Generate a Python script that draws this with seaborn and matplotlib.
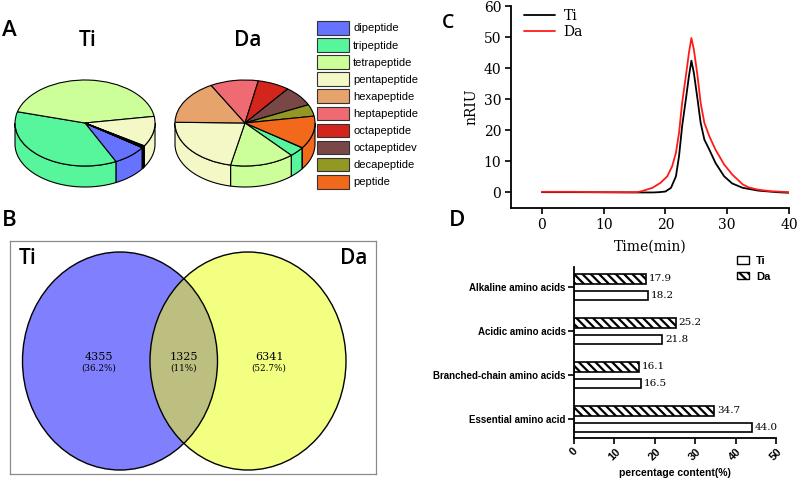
import numpy as np
import pandas as pd
import matplotlib
matplotlib.use("Agg")
import matplotlib.pyplot as plt
from matplotlib.patches import Ellipse, Polygon, Patch
import seaborn as sns

# ---------------------------------------------------------------------------
# Data
# ---------------------------------------------------------------------------

PEPTIDES = ["dipeptide", "tripeptide", "tetrapeptide", "pentapeptide",
            "hexapeptide", "heptapeptide", "octapeptide", "octapeptidev",
            "decapeptide", "peptide"]
PEP_COLORS = ["#6673FF", "#57F59C", "#CCFF99", "#F3F8C6", "#E6A36B",
              "#F06A73", "#D4251C", "#7A4747", "#939824", "#F2691C"]
TI_PEP = [8.0, 36.5, 43.3, 11.4, 0.25, 0.2, 0.15, 0.1, 0.05, 0.05]
DA_PEP = [0.1, 3.7, 14.8, 22.0, 16.7, 11.1, 7.4, 7.6, 4.4, 12.3]
START_ANGLE = -35

VENN_COUNTS = [4355, 1325, 6341]
VENN_PCTS = ["(36.2%)", "(11%)", "(52.7%)"]

TIME_TI = [0, 5, 10, 15, 18, 19, 20, 20.9, 21.7, 22.2, 22.7, 23.3, 23.8,
           24.2, 24.6, 25.2, 25.7, 26.3, 27.1, 28.1, 29.5, 30.8, 32.5, 35,
           38, 40]
NRIU_TI = [0.1, 0.1, 0.05, 0.0, 0.0, 0.1, 0.3, 1.5, 5.2, 11.7, 21.3, 29.9,
           37.4, 42.4, 38.5, 29.9, 22.4, 17.0, 13.8, 9.5, 5.2, 2.9, 1.5, 0.6,
           0.1, -0.1]
TIME_DA = [0, 5, 10, 15, 15.7, 16.3, 17.9, 19.2, 20.3, 21.1, 21.7, 22.2,
           22.7, 23.3, 23.8, 24.2, 24.6, 25.2, 25.7, 26.3, 27.1, 28.1, 29.5,
           30.8, 32.5, 33.5, 35, 37, 40]
NRIU_DA = [0.2, 0.2, 0.1, 0.1, 0.2, 0.5, 1.5, 3.1, 5.2, 8.5, 12.8, 19.2,
           28.8, 37.4, 44.9, 49.7, 46.0, 37.4, 28.8, 22.4, 18.1, 13.8, 9.0,
           5.8, 2.6, 1.6, 0.9, 0.4, 0.1]

AMINO_CATS = ["Alkaline amino acids", "Acidic amino acids",
              "Branched-chain amino acids", "Essential amino acid"]
TI_AA = [18.2, 21.8, 16.5, 44.0]
DA_AA = [17.9, 25.2, 16.1, 34.7]

# ---------------------------------------------------------------------------
# Layout helpers (figure is 800 x 484 px)
# ---------------------------------------------------------------------------
W, H = 800, 484
SERIF = "DejaVu Serif"
SANS = "Liberation Sans"
LETTER = "Open Sans"
HATCH = "\\\\\\\\"


def fx(px):
    return px / W


def fy(py):
    return 1 - py / H


def box(left, top, right, bottom):
    return [fx(left), fy(bottom), (right - left) / W, (bottom - top) / H]


def pie_3d(ax, shares, depth):
    wedges, _ = ax.pie(shares, colors=PEP_COLORS, startangle=START_ANGLE,
                       counterclock=False,
                       wedgeprops=dict(edgecolor="black", linewidth=0.8, zorder=2))
    # side wall of the front half of the disc
    for w in wedges:
        for k in (-2, -1, 0, 1):
            lo = max(w.theta1, 180 + 360 * k)
            hi = min(w.theta2, 360 + 360 * k)
            if hi <= lo:
                continue
            t = np.radians(np.linspace(lo, hi, 60))
            top = np.column_stack([np.cos(t), np.sin(t)])
            bottom = np.column_stack([np.cos(t[::-1]), np.sin(t[::-1]) - depth])
            ax.add_patch(Polygon(np.vstack([top, bottom]), closed=True,
                                 facecolor=w.get_facecolor(), edgecolor="black",
                                 linewidth=0.8, zorder=1))
    return wedges


sns.set_theme(style="white")
plt.rcParams["font.family"] = [SANS, "DejaVu Sans"]
plt.rcParams["text.color"] = "black"
plt.rcParams["axes.labelcolor"] = "black"
plt.rcParams["xtick.color"] = "black"
plt.rcParams["ytick.color"] = "black"
plt.rcParams["hatch.linewidth"] = 1.6

fig = plt.figure(figsize=(W / 100, H / 100), dpi=100)
fig.patch.set_facecolor("white")

# ---------------------------------------------------------------------------
# A: 3D pies
# ---------------------------------------------------------------------------
RX, RY, DEPTH_PX = 70, 43, 21
for cx, shares, name in [(85, TI_PEP, "Ti"), (245, DA_PEP, "Da")]:
    ax = fig.add_axes(box(cx - 80, 75, cx + 80, 195))
    wedges = pie_3d(ax, shares, DEPTH_PX / RY)
    ax.set_aspect("auto")
    ax.set_xlim(-80 / RX, 80 / RX)
    ax.set_ylim(-(195 - 123) / RY, (123 - 75) / RY)
    ax.axis("off")
    fig.text(fx(cx + 3), fy(40), name, family=LETTER, fontsize=15,
             fontweight="semibold", ha="center", va="center")
    if name == "Ti":
        legend_handles = wedges

for w in legend_handles:
    w.set_edgecolor("#333333")
fig.legend(legend_handles, PEPTIDES, loc="upper left",
           bbox_to_anchor=(fx(317), fy(21)), frameon=False, fontsize=8,
           handlelength=2.9, handleheight=1.5, handletextpad=0.35,
           labelspacing=0.32, borderpad=0, borderaxespad=0)
for w in legend_handles:
    w.set_edgecolor("black")

# ---------------------------------------------------------------------------
# B: Venn diagram
# ---------------------------------------------------------------------------
axv = fig.add_axes(box(10, 241, 376, 474))
axv.set_xlim(10, 376)
axv.set_ylim(474, 241)
ti_circle = Ellipse((120, 361), 195, 218, facecolor="#8080FF", edgecolor="none")
da_circle = Ellipse((248, 361), 196, 218, facecolor="#F2FF80", edgecolor="none")
axv.add_patch(ti_circle)
axv.add_patch(da_circle)
lens = Ellipse((248, 361), 196, 218, facecolor="#BDBF80", edgecolor="none")
axv.add_patch(lens)
lens.set_clip_path(ti_circle)
for c in [(120, 361, 195), (248, 361, 196)]:
    axv.add_patch(Ellipse((c[0], c[1]), c[2], 218, fill=False,
                          edgecolor="black", linewidth=1.0))
for x, n, p in zip([99, 184, 269], VENN_COUNTS, VENN_PCTS):
    axv.text(x, 357, str(n), family=SERIF, fontsize=8, ha="center", va="center")
    axv.text(x, 368, p, family=SERIF, fontsize=6.3, ha="center", va="center")
axv.text(28, 258, "Ti", family=LETTER, fontsize=15, fontweight="semibold",
         ha="center", va="center")
axv.text(354, 258, "Da", family=LETTER, fontsize=15, fontweight="semibold",
         ha="center", va="center")
axv.set_xticks([])
axv.set_yticks([])
for s in axv.spines.values():
    s.set_visible(True)
    s.set_linestyle((0, (1, 1)))
    s.set_color("#8a8a8a")
    s.set_linewidth(0.9)

# ---------------------------------------------------------------------------
# C: HPLC chromatogram
# ---------------------------------------------------------------------------
axc = fig.add_axes(box(511, 6, 789, 208))
sns.lineplot(x=TIME_TI, y=NRIU_TI, ax=axc, color="black", linewidth=1.3,
             label="Ti")
sns.lineplot(x=TIME_DA, y=NRIU_DA, ax=axc, color="#FF1A1A", linewidth=1.3,
             label="Da")
axc.set_xlim(-5, 40)
axc.set_ylim(-5, 60)
axc.set_xticks([0, 10, 20, 30, 40])
axc.set_yticks([0, 10, 20, 30, 40, 50, 60])
axc.set_xlabel("Time(min)", family=SERIF, fontsize=10, labelpad=6)
axc.set_ylabel("nRIU", family=SERIF, fontsize=10, labelpad=4)
sns.despine(ax=axc)
for s in ["left", "bottom"]:
    axc.spines[s].set_linewidth(1.3)
    axc.spines[s].set_color("black")
axc.tick_params(direction="out", length=4, width=1.2, labelsize=10, pad=3,
                bottom=True, left=True)
for lab in axc.get_xticklabels() + axc.get_yticklabels():
    lab.set_family(SERIF)
axc.legend(loc="upper left", bbox_to_anchor=(0.047, 0.985), frameon=False,
           prop=dict(family=SERIF, size=10), handlelength=2.25,
           handletextpad=0.6, labelspacing=0.15, borderpad=0, borderaxespad=0)

# ---------------------------------------------------------------------------
# D: amino acid composition
# ---------------------------------------------------------------------------
axd = fig.add_axes(box(574, 267, 776, 438))
amino = pd.DataFrame({
    "category": AMINO_CATS * 2,
    "group": ["Ti"] * len(AMINO_CATS) + ["Da"] * len(AMINO_CATS),
    "value": TI_AA + DA_AA,
})
sns.barplot(data=amino, y="category", x="value", hue="group",
            hue_order=["Da", "Ti"], order=AMINO_CATS, orient="h",
            palette={"Da": "white", "Ti": "white"}, edgecolor="black",
            linewidth=1.2, width=0.76, gap=0.42, legend=False, ax=axd)
for bar in axd.containers[0]:
    bar.set_hatch(HATCH)
for cont in axd.containers:
    axd.bar_label(cont, fmt="%.1f", padding=2, fontsize=7.5, family=SERIF)
axd.set_xlim(0, 50)
axd.set_ylim(3.43, -0.455)
axd.set_xticks([0, 10, 20, 30, 40, 50])
axd.set_xticklabels(["0", "10", "20", "30", "40", "50"], rotation=45,
                    fontweight="bold", fontsize=8)
for lab in axd.get_yticklabels():
    lab.set_fontweight("bold")
    lab.set_fontsize(7)
axd.set_ylabel("")
axd.set_xlabel("percentage content(%)", fontsize=7.5, fontweight="bold",
               labelpad=4)
sns.despine(ax=axd)
for s in ["left", "bottom"]:
    axd.spines[s].set_linewidth(1.3)
    axd.spines[s].set_color("black")
axd.tick_params(direction="out", length=4, width=1.2, pad=2, bottom=True,
                left=True)
d_handles = [Patch(facecolor="white", edgecolor="black", linewidth=1.0, label="Ti"),
             Patch(facecolor="white", edgecolor="black", linewidth=1.0,
                   hatch=HATCH, label="Da")]
fig.legend(handles=d_handles, loc="upper left", bbox_to_anchor=(fx(737), fy(256)),
           frameon=False, prop=dict(size=8, weight="bold"), handlelength=1.1,
           handleheight=0.65, handletextpad=0.6, labelspacing=0.5, borderpad=0,
           borderaxespad=0)

# ---------------------------------------------------------------------------
# panel letters
# ---------------------------------------------------------------------------
for letter, x, y, size in [("A", 9, 30, 16), ("B", 9, 220, 16),
                           ("C", 448, 23, 14), ("D", 457, 221, 16)]:
    fig.text(fx(x), fy(y), letter, family=LETTER, fontsize=size,
             fontweight="semibold", ha="center", va="center")

fig.savefig("out.png", dpi=100)
